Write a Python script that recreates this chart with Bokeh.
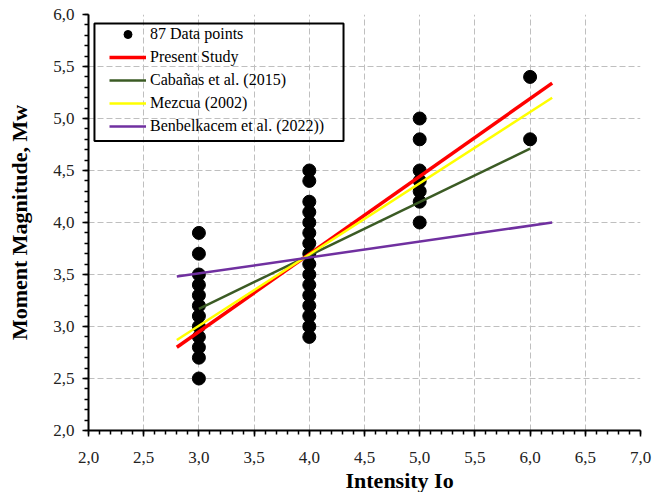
from bokeh.plotting import figure
from bokeh.models import (Legend, LegendItem, SingleIntervalTicker, CustomJSTickFormatter,
                          BoxAnnotation, Range1d, Title)
from bokeh.embed import file_html
from bokeh.resources import INLINE

# ---- data ----
mw_at_i3 = [2.5, 2.7, 2.8, 2.9, 3.0, 3.1, 3.2, 3.3, 3.4, 3.5, 3.7, 3.9]
mw_at_i4 = [2.9, 3.0, 3.1, 3.2, 3.3, 3.4, 3.5, 3.6, 3.7, 3.8, 3.9, 4.0, 4.1, 4.2, 4.4, 4.5]
mw_at_i5 = [4.0, 4.2, 4.3, 4.4, 4.5, 4.8, 5.0]
mw_at_i6 = [4.8, 5.4]

present_x = [2.8, 6.2]
present_y = [2.80, 5.34]
cabanas_x = [3.0, 6.0]
cabanas_y = [3.17, 4.71]
mezcua_x = [2.8, 6.2]
mezcua_y = [2.87, 5.20]
benbel_x = [2.8, 6.2]
benbel_y = [3.48, 4.00]

pts_x = [3.0] * len(mw_at_i3) + [4.0] * len(mw_at_i4) + [5.0] * len(mw_at_i5) + [6.0] * len(mw_at_i6)
pts_y = mw_at_i3 + mw_at_i4 + mw_at_i5 + mw_at_i6

SERIF = "Liberation Serif"
FRAME_W = 552
FRAME_H = 416

p = figure(frame_width=FRAME_W, frame_height=FRAME_H, x_range=Range1d(2, 7), y_range=Range1d(2, 6),
           output_backend="svg", toolbar_location=None,
           min_border_left=88, min_border_right=12, min_border_top=14, min_border_bottom=40)
p.outline_line_color = None
p.background_fill_color = "white"

fmt = CustomJSTickFormatter(code="return tick.toFixed(1).replace('.', ',');")
for ax in (p.xaxis[0], p.yaxis[0]):
    ax.ticker = SingleIntervalTicker(interval=0.5, num_minor_ticks=5)
    ax.formatter = fmt
    ax.axis_line_color = "black"
    ax.axis_line_width = 2
    ax.major_tick_line_color = "black"
    ax.major_tick_line_width = 1.5
    ax.minor_tick_line_color = "black"
    ax.minor_tick_line_width = 1.5
    ax.major_tick_in = 0
    ax.major_tick_out = 6
    ax.minor_tick_in = 0
    ax.minor_tick_out = 4
    ax.major_label_text_font = SERIF
    ax.major_label_text_font_size = "17px"
    ax.major_label_text_color = "#222222"
    ax.axis_label_text_font = SERIF
    ax.axis_label_text_font_size = "22px"
    ax.axis_label_text_font_style = "bold"
    ax.axis_label_text_color = "black"

p.yaxis.axis_label = "Moment Magnitude, Mw"
p.xaxis.major_label_standoff = 15
p.yaxis.major_label_standoff = 8
p.yaxis.axis_label_standoff = 18

p.add_layout(Title(text="Intensity Io", align="left", offset=257, standoff=0,
                   text_font=SERIF, text_font_size="22px", text_font_style="bold",
                   text_color="black"), "below")

for g in (p.xgrid[0], p.ygrid[0]):
    g.grid_line_color = "#BFBFBF"
    g.grid_line_dash = "6 3"
    g.grid_line_width = 1
p.xgrid.ticker = p.xaxis[0].ticker
p.ygrid.ticker = p.yaxis[0].ticker

r_pts = p.scatter(pts_x, pts_y, size=13, color="black")
r_present = p.line(present_x, present_y, line_color="#FF0000", line_width=3.5)
r_cab = p.line(cabanas_x, cabanas_y, line_color="#3B5B24", line_width=2.5)
r_mez = p.line(mezcua_x, mezcua_y, line_color="#FFFF00", line_width=2.5)
r_ben = p.line(benbel_x, benbel_y, line_color="#7030A0", line_width=2.5)

# legend frame
p.add_layout(BoxAnnotation(left=2.054, right=4.31, top=5.913, bottom=4.783,
                           fill_alpha=0, line_color="black", line_alpha=1.0, line_width=2))

legend = Legend(items=[
    LegendItem(label="87 Data points", renderers=[r_pts]),
    LegendItem(label="Present Study", renderers=[r_present]),
    LegendItem(label="Cabañas et al. (2015)", renderers=[r_cab]),
    LegendItem(label="Mezcua (2002)", renderers=[r_mez]),
    LegendItem(label="Benbelkacem et al. (2022))", renderers=[r_ben]),
])
legend.border_line_alpha = 0
legend.background_fill_alpha = 0
legend.padding = 0
legend.margin = 0
legend.spacing = 3
legend.glyph_width = 37
legend.glyph_height = 20
legend.label_height = 20
legend.label_standoff = 4
legend.label_text_font = SERIF
legend.label_text_font_size = "16px"
legend.label_text_color = "black"
legend.label_text_baseline = "middle"
p.add_layout(legend, "center")
legend.location = (21, FRAME_H - 10 - (5 * 20 + 4 * 3))

open("out.html", "w").write(file_html(p, INLINE))
